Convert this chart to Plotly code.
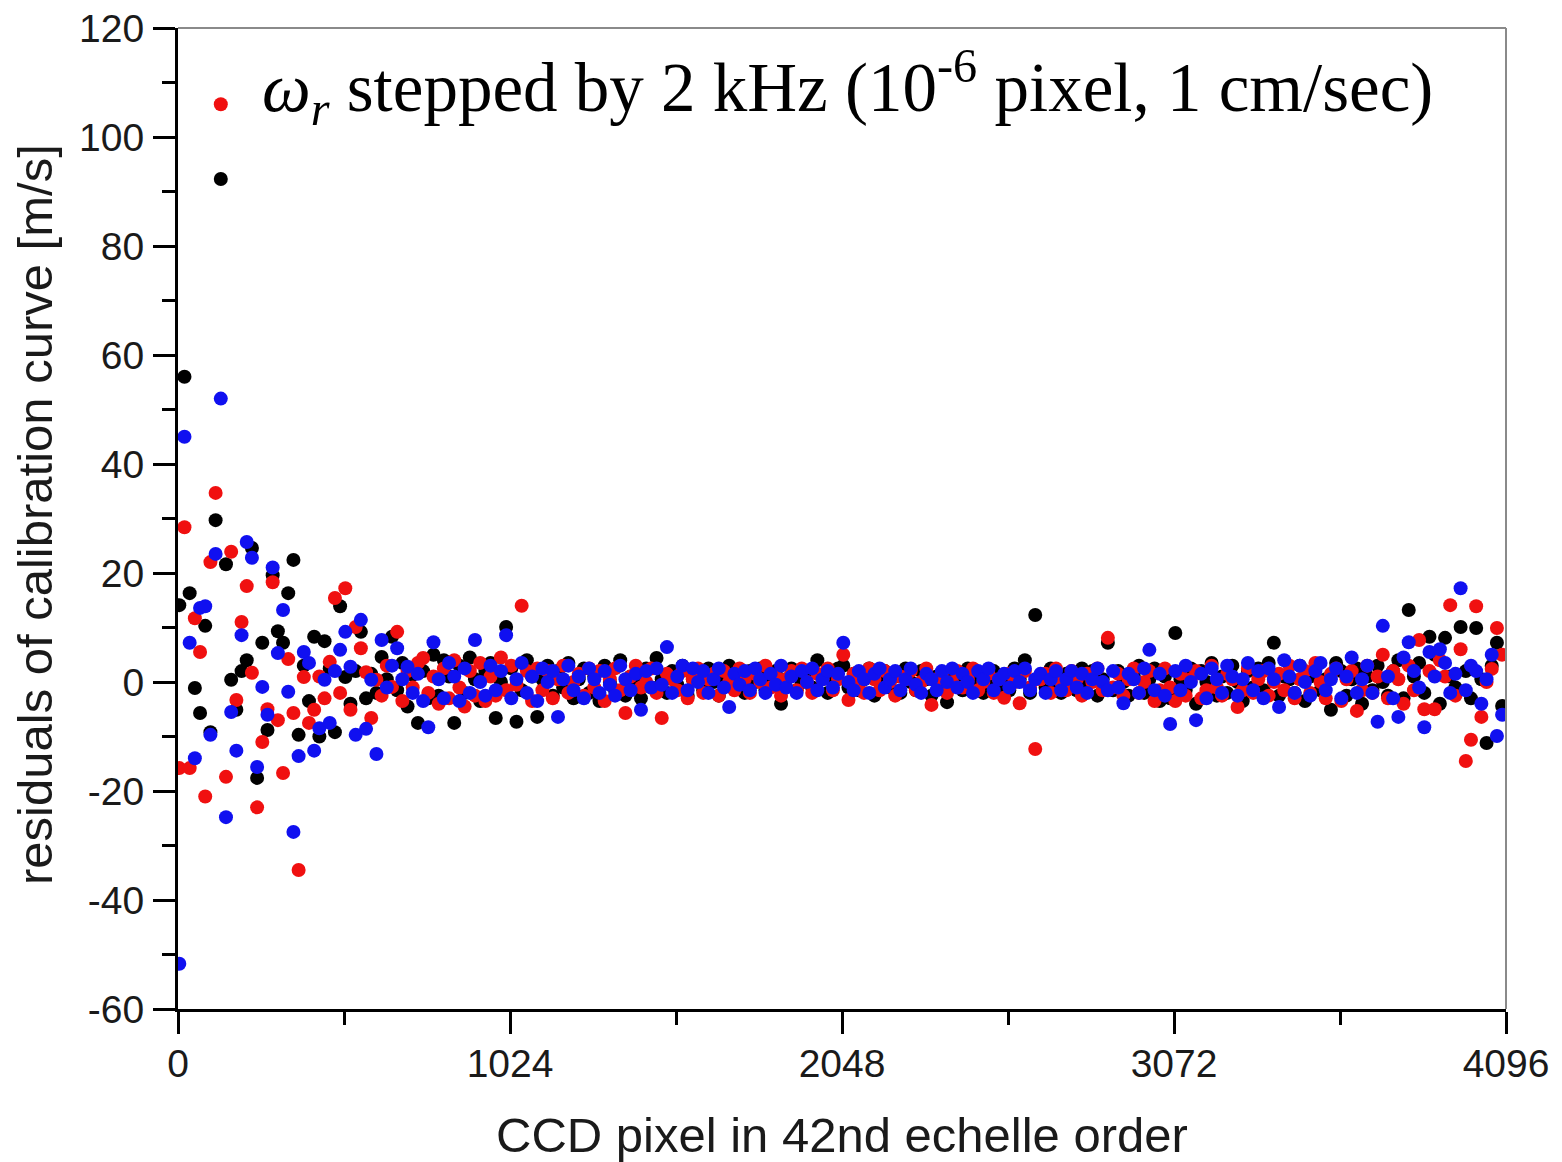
import plotly.graph_objects as go

# Shared comb-line positions (CCD pixel) in the 42nd echelle order
x_lines = [
    4, 20, 36, 52, 68, 84, 100, 116, 132, 148, 164, 180, 196, 212, 228, 244,
    260, 276, 292, 308, 324, 340, 356, 372, 388, 404, 420, 436, 452, 468, 484, 500,
    516, 532, 548, 564, 580, 596, 612, 628, 644, 660, 676, 692, 708, 724, 740, 756,
    772, 788, 804, 820, 836, 852, 868, 884, 900, 916, 932, 948, 964, 980, 996, 1012,
    1028, 1044, 1060, 1076, 1092, 1108, 1124, 1140, 1156, 1172, 1188, 1204, 1220, 1236, 1252, 1268,
    1284, 1300, 1316, 1332, 1348, 1364, 1380, 1396, 1412, 1428, 1444, 1460, 1476, 1492, 1508, 1524,
    1540, 1556, 1572, 1588, 1604, 1620, 1636, 1652, 1668, 1684, 1700, 1716, 1732, 1748, 1764, 1780,
    1796, 1812, 1828, 1844, 1860, 1876, 1892, 1908, 1924, 1940, 1956, 1972, 1988, 2004, 2020, 2036,
    2052, 2068, 2084, 2100, 2116, 2132, 2148, 2164, 2180, 2196, 2212, 2228, 2244, 2260, 2276, 2292,
    2308, 2324, 2340, 2356, 2372, 2388, 2404, 2420, 2436, 2452, 2468, 2484, 2500, 2516, 2532, 2548,
    2564, 2580, 2596, 2612, 2628, 2644, 2660, 2676, 2692, 2708, 2724, 2740, 2756, 2772, 2788, 2804,
    2820, 2836, 2852, 2868, 2884, 2900, 2916, 2932, 2948, 2964, 2980, 2996, 3012, 3028, 3044, 3060,
    3076, 3092, 3108, 3124, 3140, 3156, 3172, 3188, 3204, 3220, 3236, 3252, 3268, 3284, 3300, 3316,
    3332, 3348, 3364, 3380, 3396, 3412, 3428, 3444, 3460, 3476, 3492, 3508, 3524, 3540, 3556, 3572,
    3588, 3604, 3620, 3636, 3652, 3668, 3684, 3700, 3716, 3732, 3748, 3764, 3780, 3796, 3812, 3828,
    3844, 3860, 3876, 3892, 3908, 3924, 3940, 3956, 3972, 3988, 4004, 4020, 4036, 4052, 4068, 4084,
]

# Residuals [m/s], one value per line, for each of the three measurements
res_black = [
    14.1, 56, 16.3, -1.1, -5.7, 10.3, -9.2, 29.7, 92.3, 21.6,
    0.4, -5.1, 2.0, 4.0, 24.6, -17.6, 7.2, -8.8, 19.6, 9.3,
    7.2, 16.3, 22.4, -9.7, 3.0, -3.5, 8.3, -10.0, 7.5, 2.5,
    -9.2, 13.9, 0.9, -4.0, 2.0, 9.2, -3.0, 1.5, -2.0, 4.6,
    0.5, 8.3, -1.5, 3.5, -4.5, 1.3, -7.5, 2.0, -3.0, 5.0,
    -2.5, 4.0, 1.0, -7.5, 3.0, -2.0, 4.5, 0.5, -3.5, 2.0,
    3.5, -6.6, 0.0, 10.1, 2.5, -7.3, -1.5, 4.0, 1.0, -6.4,
    0.5, 3.0, -2.5, 2.0, -1.0, 3.5, -3.0, 0.5, 2.5, -2.0,
    1.0, -3.5, 3.0, 0.0, -1.5, 4.0, -2.5, 1.0, 0.5, -3.0,
    2.5, -1.0, 4.4, 0.5, -2.0, 2.0, -0.5, 3.0, -2.5, 0.5,
    2.0, -1.5, 2.5, 0.0, -2.5, 1.0, 3.0, -0.5, 0.5, -2.0,
    2.0, 0.0, 2.5, -1.5, 0.5, 2.0, -4.0, 0.5, 2.5, -1.5,
    0.0, 2.0, -1.0, 4.0, 1.0, -2.0, 0.5, 2.5, 3.0, -1.0,
    1.5, -1.5, 0.5, 2.5, -2.5, 0.5, 2.0, -1.0, 1.0, -2.0,
    2.5, 0.0, -1.5, 2.0, 0.5, -2.5, 1.0, 0.0, -3.7, 2.0,
    0.5, -1.5, 2.5, 0.0, 1.5, -2.0, 0.5, 2.0, -1.0, 1.0,
    -1.5, 2.5, 0.5, 4.0, -2.0, 12.3, 1.0, -1.0, 2.5, 0.0,
    -2.0, 1.5, 0.5, -1.5, 2.5, 0.0, 2.0, -2.5, 0.5, 7.2,
    -1.5, 2.0, 0.0, -2.5, 1.0, 3.0, -2.0, 0.5, 2.5, -3.5,
    1.0, -3.0, 9.0, 0.5, -1.5, 2.5, -4.0, 2.0, 0.0, 3.5,
    -2.5, 1.0, -2.0, 3.0, 0.0, -3.5, 2.0, -1.0, 2.5, -1.5,
    3.5, 7.2, -2.5, 1.0, 0.5, -2.0, 3.0, -3.5, 1.0, 2.5,
    -1.5, 0.5, -5.1, 3.5, 2.0, -2.5, 0.5, 2.5, -4.0, 1.0,
    -1.5, 3.0, 0.0, -2.5, 2.0, 4.0, -3.0, 13.2, 1.0, 3.5,
    -2.0, 8.3, 5.0, -4.0, 8.1, 1.0, -1.0, 10.1, 2.0, -3.0,
    9.9, 0.5, -11.2, 3.0, 7.2, -4.4,
]

res_red = [
    -15.8, 28.4, -15.8, 11.7, 5.5, -21.0, 22.0, 34.7, 106.0, -17.4,
    23.9, -3.3, 11.0, 17.6, 1.7, -23.0, -11.0, -5.0, 18.3, -7.0,
    -16.7, 4.2, -5.7, -34.5, 0.9, -7.5, -5.1, 1.0, -3.0, 3.7,
    15.4, -2.0, 17.2, -5.1, 10.1, 6.2, 1.8, -6.6, 0.4, -2.5,
    3.0, -0.9, 9.2, -3.5, 2.0, -1.0, 3.5, 4.4, -2.0, 1.0,
    -4.0, 2.5, -3.0, 4.0, -1.0, -4.5, 2.0, -2.5, 3.5, -3.5,
    1.0, -2.5, 4.5, -1.5, 3.0, -0.5, 14.0, 2.0, -3.5, 2.5,
    -1.5, 2.0, -3.0, 0.5, 3.0, -2.0, 0.0, 1.5, -2.5, 2.5,
    -1.0, 2.0, -3.5, 0.5, 2.5, -1.5, -5.7, 1.0, 3.0, -1.0,
    0.0, 2.5, -2.0, -6.6, 1.5, 0.5, -1.5, 2.0, -3.0, 0.5,
    2.5, -2.0, 0.5, 1.5, -2.5, 2.0, 0.0, -1.5, 2.5, 0.5,
    -2.0, 1.5, 0.0, 3.0, -1.0, 1.0, -2.5, 0.5, 2.0, -1.5,
    2.5, 0.0, -2.0, 1.5, 0.5, 2.5, -1.5, 0.5, 5.0, -3.3,
    1.5, 0.0, -2.0, 2.5, 0.5, -1.5, 2.0, 0.0, -2.5, 1.0,
    0.5, 2.0, -1.5, 0.0, 2.5, -4.2, 0.5, 1.5, -2.0, 0.0,
    2.0, -1.0, 0.5, 2.5, -1.5, 0.0, 1.5, -2.0, 0.5, -2.9,
    1.5, 0.0, -3.9, 2.0, -1.0, -12.3, 0.5, 1.5, -2.0, 2.5,
    0.0, -1.5, 2.0, 0.5, -2.5, 1.5, 0.0, 2.5, -1.5, 8.1,
    -1.0, 1.5, -2.5, 0.5, 2.5, -2.0, 0.0, 2.0, -3.5, -1.5,
    2.5, -1.0, -3.5, 1.5, -2.5, 0.5, 2.0, -3.0, -1.5, 3.0,
    -1.0, -2.5, 1.5, 0.5, -4.6, -1.5, 2.5, -2.0, 0.5, 2.0,
    -2.5, 0.0, 1.5, -1.5, 3.0, -3.0, 0.5, 2.0, -2.0, 3.5,
    0.0, -3.0, 1.5, 2.5, -3.5, 0.5, 2.0, -5.3, -1.5, 3.0,
    -2.0, 1.0, 5.0, -3.0, 2.0, 0.5, -4.0, 3.0, -1.5, 7.7,
    -5.0, 2.0, -5.0, 4.0, 1.0, 14.1, -2.5, 6.0, -14.5, -10.6,
    13.9, -6.4, 0.0, 2.4, 9.9, 5.0,
]

res_blue = [
    -51.7, 45.0, 7.2, -14.0, 13.6, 13.9, -9.7, 23.5, 52.0, -24.8,
    -5.5, -12.6, 8.6, 25.7, 22.8, -15.6, -0.9, -6.0, 21.0, 5.3,
    13.2, -1.8, -27.5, -13.6, 5.5, 3.5, -12.6, -8.5, 0.4, -7.5,
    2.0, 5.9, 9.2, 2.8, -9.7, 11.4, -8.6, 0.4, -13.2, 7.7,
    -1.0, 3.0, 6.2, 0.5, 2.8, -2.0, 1.5, -3.5, -8.3, 7.3,
    0.5, -3.0, 3.5, 1.0, -3.5, 2.5, -2.0, 7.7, 0.0, -2.5,
    3.0, -1.5, 2.0, 8.6, -3.0, 0.5, 3.5, -2.0, 1.0, -3.5,
    2.5, 0.0, 2.0, -6.4, 0.5, 3.0, -1.5, 1.0, -3.0, 2.5,
    0.5, -2.0, 2.0, -0.5, -2.5, 3.0, 0.5, -1.5, 1.5, -5.1,
    2.0, -1.0, 2.5, -0.5, 6.4, -2.0, 1.0, 3.0, -1.5, 2.5,
    0.0, 2.0, -2.0, 0.5, 2.5, -1.0, -4.6, 1.5, -0.5, 2.0,
    -1.5, 2.5, 0.5, -2.0, 1.5, -0.5, 3.0, -1.0, 1.0, -2.0,
    2.0, 0.0, 2.5, -1.5, 0.5, 2.0, -1.0, 1.5, 7.2, 0.0,
    -1.5, 2.0, 0.5, -2.0, 1.5, 2.5, -1.0, 0.5, 2.0, -1.5,
    0.5, 2.5, -0.5, -2.0, 1.5, 0.5, -1.5, 2.0, 0.0, 2.5,
    -1.0, 1.5, 0.0, -2.0, 2.0, 0.5, 2.5, -1.5, 0.5, 1.5,
    -1.0, 2.0, 0.0, 2.5, -1.5, 0.5, 1.5, -2.0, 0.5, 2.0,
    -1.5, 0.5, 2.0, -1.0, 1.5, -2.0, 0.5, 2.5, 0.0, -1.5,
    2.0, -1.0, -3.9, 1.5, 0.5, -2.0, 2.5, 5.9, -1.5, 1.5,
    -2.5, -7.7, 2.0, -1.5, 3.0, 0.0, -7.0, 1.5, -3.0, 2.5,
    0.5, -2.0, 3.0, 1.0, -2.5, 0.5, 3.5, -1.5, 2.0, -3.0,
    2.5, 0.5, -4.6, 4.0, 1.0, -2.0, 3.0, 0.0, -2.5, 2.0,
    3.5, -1.5, 0.5, 2.5, -3.0, 1.0, 4.5, -2.0, 0.5, 3.0,
    -2.0, -7.3, 10.3, 1.0, -3.0, -6.4, 4.5, 7.3, 2.0, -1.0,
    -8.3, 5.5, 1.0, 6.0, 3.5, -2.0, 1.5, 17.2, -1.5, 3.0,
    2.0, -4.0, 0.5, 5.0, -9.9, -6.0,
]

assert len(x_lines) == len(res_black) == len(res_red) == len(res_blue), (
    len(x_lines), len(res_black), len(res_red), len(res_blue))

y_tickvals = [-60, -40, -20, 0, 20, 40, 60, 80, 100, 120]
y_ticktext = ["-60", "-40", "-20", "0", "20", "40", "60", "80", "100", "120"]
x_tickvals = [0, 1024, 2048, 3072, 4096]
x_ticktext = ["0", "1024", "2048", "3072", "4096"]

x_title = "CCD pixel in 42nd echelle order"
y_title = "residuals of calibration curve [m/s]"
note = "<i>ω</i><sub><i>r</i></sub> stepped by 2 kHz (10<sup>-6</sup> pixel, 1 cm/sec)"

series = [
    ("black", res_black, "#000000"),
    ("red", res_red, "#f01010"),
    ("blue", res_blue, "#1010f0"),
]

fig = go.Figure()
for name, ys, col in series:
    fig.add_trace(go.Scatter(
        x=x_lines, y=ys, mode="markers", name=name,
        marker=dict(size=14, color=col, line=dict(width=0)),
        cliponaxis=True,
    ))

sans = "Liberation Sans, Arial, sans-serif"
axis_font = dict(family=sans, size=39, color="#1a1a1a")
title_font = dict(family=sans, size=49, color="#1a1a1a")

fig.update_xaxes(
    range=[0, 4096], tickmode="array", tickvals=x_tickvals, ticktext=x_ticktext,
    ticks="outside", ticklen=22, tickwidth=2.5, tickcolor="black",
    showline=True, linecolor="black", linewidth=3, mirror=False,
    showgrid=False, zeroline=False, tickfont=axis_font, automargin=False,
    ticklabelstandoff=-4, ticklabeloverflow="allow",
    minor=dict(tickmode="linear", tick0=0, dtick=512, ticks="outside",
               ticklen=13, tickwidth=2.5, tickcolor="black", showgrid=False),
)
fig.update_yaxes(
    range=[-60, 120], tickmode="array", tickvals=y_tickvals, ticktext=y_ticktext,
    ticks="outside", ticklen=22, tickwidth=2.5, tickcolor="black",
    showline=True, linecolor="black", linewidth=3, mirror=False,
    showgrid=False, zeroline=False, tickfont=axis_font, ticklabelstandoff=1,
    automargin=False, ticklabeloverflow="allow",
    minor=dict(tickmode="linear", tick0=0, dtick=10, ticks="outside",
               ticklen=13, tickwidth=2.5, tickcolor="black", showgrid=False),
)

# thin grey frame on top and right
fig.add_shape(type="line", xref="paper", yref="paper", x0=0, x1=1, y0=1, y1=1,
              line=dict(color="#8a8a8a", width=2))
fig.add_shape(type="line", xref="paper", yref="paper", x0=1, x1=1, y0=0, y1=1,
              line=dict(color="#8a8a8a", width=2))

# axis titles
fig.add_annotation(xref="paper", yref="paper", x=0.5, y=-0.1285,
                   xanchor="center", yanchor="middle", showarrow=False,
                   text=x_title, font=title_font)
fig.add_annotation(xref="paper", yref="paper", x=-0.1077, y=0.5046,
                   xanchor="center", yanchor="middle", showarrow=False,
                   text=y_title, font=title_font, textangle=-90)

fig.add_annotation(
    xref="paper", yref="paper", x=0.062, y=0.94, xanchor="left", yanchor="middle",
    text=note, showarrow=False,
    font=dict(family="Liberation Serif, DejaVu Serif, serif", size=69, color="black"),
)

# The page body adds an 8 px offset, so the figure is 8 px smaller with
# 8 px less left/top margin to land the plot area where the reference has it.
fig.update_layout(
    width=1554, height=1154,
    margin=dict(l=170, r=56, t=20, b=153),
    plot_bgcolor="white", paper_bgcolor="white",
    showlegend=False,
)

fig.write_html("out.html")
